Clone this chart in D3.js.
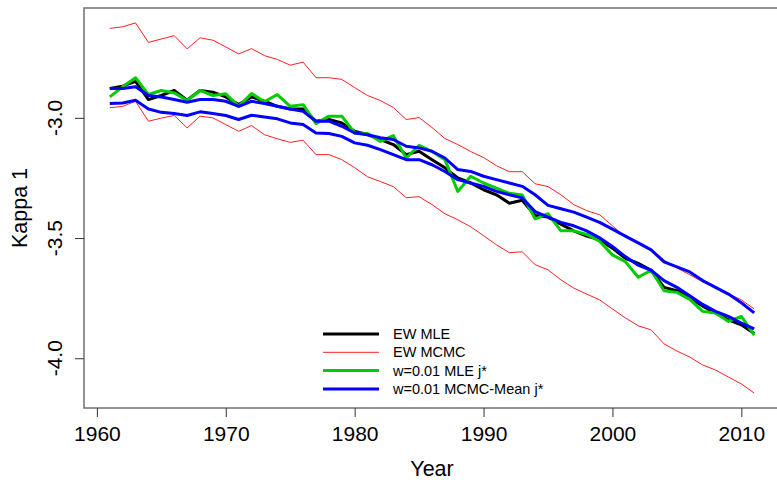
<!DOCTYPE html>
<html>
<head>
<meta charset="utf-8">
<script src="https://cdn.jsdelivr.net/npm/d3@7"></script>
<style>
body { margin: 0; background: #fff; }
text { font-family: "Liberation Sans", Arial, sans-serif; }
</style>
</head>
<body>
<div id="chart"></div>
<script>
const years = d3.range(1961, 2012);

const ewMle = [-2.878, -2.868, -2.848, -2.924, -2.907, -2.886, -2.927, -2.886, -2.893, -2.913,
    -2.945, -2.913, -2.931, -2.952, -2.963, -2.963, -3.014, -3.007, -3.021, -3.056,
    -3.070, -3.090, -3.111, -3.153, -3.139, -3.174, -3.208, -3.250, -3.271, -3.299,
    -3.320, -3.355, -3.343, -3.406, -3.413, -3.442, -3.470, -3.492, -3.506, -3.542,
    -3.584, -3.605, -3.634, -3.705, -3.719, -3.748, -3.783, -3.812, -3.840, -3.861, -3.897];

const ewMcmcUpper = [-2.628, -2.621, -2.605, -2.686, -2.672, -2.658, -2.713, -2.667, -2.677, -2.705,
    -2.734, -2.712, -2.741, -2.757, -2.781, -2.768, -2.833, -2.833, -2.840, -2.874,
    -2.907, -2.928, -2.957, -3.007, -2.999, -3.040, -3.086, -3.111, -3.140, -3.165,
    -3.199, -3.224, -3.224, -3.274, -3.286, -3.320, -3.361, -3.386, -3.403, -3.449,
    -3.495, -3.524, -3.545, -3.591, -3.624, -3.653, -3.682, -3.703, -3.732, -3.757, -3.795];

const ewMcmcLower = [-2.958, -2.952, -2.931, -3.014, -3.001, -2.990, -3.042, -2.993, -3.000, -3.028,
    -3.056, -3.032, -3.070, -3.087, -3.102, -3.093, -3.153, -3.153, -3.174, -3.207,
    -3.245, -3.265, -3.286, -3.332, -3.328, -3.361, -3.399, -3.424, -3.453, -3.490,
    -3.528, -3.561, -3.557, -3.611, -3.632, -3.674, -3.708, -3.733, -3.757, -3.795,
    -3.832, -3.865, -3.882, -3.940, -3.970, -3.995, -4.028, -4.049, -4.078, -4.107, -4.145];

const w01Mle = [-2.913, -2.871, -2.833, -2.903, -2.886, -2.896, -2.928, -2.886, -2.907, -2.900,
    -2.952, -2.899, -2.933, -2.903, -2.952, -2.945, -3.024, -2.993, -2.993, -3.063,
    -3.065, -3.098, -3.074, -3.167, -3.114, -3.140, -3.174, -3.306, -3.243, -3.271,
    -3.292, -3.314, -3.321, -3.420, -3.399, -3.470, -3.470, -3.485, -3.513, -3.570,
    -3.598, -3.663, -3.634, -3.719, -3.726, -3.755, -3.805, -3.812, -3.847, -3.826, -3.904];

const w01McmcUpper = [-2.878, -2.878, -2.871, -2.907, -2.913, -2.924, -2.935, -2.924, -2.924, -2.931,
    -2.952, -2.931, -2.940, -2.952, -2.963, -2.973, -3.014, -3.014, -3.035, -3.063,
    -3.070, -3.083, -3.090, -3.118, -3.125, -3.139, -3.167, -3.215, -3.223, -3.243,
    -3.257, -3.271, -3.285, -3.320, -3.364, -3.378, -3.392, -3.413, -3.435, -3.463,
    -3.492, -3.520, -3.549, -3.599, -3.620, -3.641, -3.677, -3.705, -3.733, -3.769, -3.811];

const w01McmcLower = [-2.940, -2.938, -2.927, -2.963, -2.977, -2.982, -2.990, -2.975, -2.982, -2.990,
    -3.007, -2.989, -2.996, -3.004, -3.021, -3.028, -3.063, -3.065, -3.077, -3.104,
    -3.114, -3.132, -3.153, -3.174, -3.174, -3.195, -3.223, -3.257, -3.271, -3.285,
    -3.306, -3.320, -3.333, -3.390, -3.413, -3.435, -3.449, -3.470, -3.499, -3.535,
    -3.577, -3.613, -3.634, -3.677, -3.705, -3.740, -3.776, -3.805, -3.826, -3.854, -3.878];

const xTicks = [1960, 1970, 1980, 1990, 2000, 2010];
const yTicks = [-4.0, -3.5, -3.0];
const legendLabels = ["EW MLE", "EW MCMC", "w=0.01 MLE j*", "w=0.01 MCMC-Mean j*"];
const legendColors = ["#000000", "#ff2020", "#00cd00", "#0000ff"];
const legendWidths = [3, 1, 3, 3];

const totalWidth = 777, totalHeight = 480;
const plot = { left: 84, top: 8, right: 780, bottom: 408 };

const svg = d3.select("#chart").append("svg")
    .attr("width", totalWidth)
    .attr("height", totalHeight);

// R-style scales: range of data padded by 4%
const x = d3.scaleLinear().domain([1959, 2013]).range([plot.left, plot.right]);
const y = d3.scaleLinear().domain([-4.207, -2.543]).range([plot.bottom, plot.top]);

const line = d3.line()
    .x((d, i) => x(years[i]))
    .y(d => y(d));

// series in drawing order (red band lines, then thick lines on top)
const series = [
    { values: ewMle, color: legendColors[0], width: 3 },
    { values: ewMcmcUpper, color: legendColors[1], width: 1 },
    { values: ewMcmcLower, color: legendColors[1], width: 1 },
    { values: w01Mle, color: legendColors[2], width: 3 },
    { values: w01McmcUpper, color: legendColors[3], width: 3 },
    { values: w01McmcLower, color: legendColors[3], width: 3 }
];

svg.append("g").selectAll("path")
    .data(series)
    .enter().append("path")
    .attr("d", d => line(d.values))
    .attr("fill", "none")
    .attr("stroke", d => d.color)
    .attr("stroke-width", d => d.width)
    .attr("stroke-linejoin", "round");

// Box around the plot region
svg.append("rect")
    .attr("x", plot.left)
    .attr("y", plot.top)
    .attr("width", plot.right - plot.left)
    .attr("height", plot.bottom - plot.top)
    .attr("fill", "none")
    .attr("stroke", "#707070")
    .attr("stroke-width", 1.5);

// X axis
const xAxisG = svg.append("g")
    .attr("transform", `translate(0,${plot.bottom})`)
    .call(d3.axisBottom(x).tickValues(xTicks).tickSize(9).tickPadding(9).tickFormat(d3.format("d")));
xAxisG.select(".domain").remove();
xAxisG.selectAll("line").attr("stroke", "#333");
xAxisG.selectAll("text")
    .attr("font-size", "21px")
    .attr("fill", "#000")
    .style("font-family", "'Liberation Sans', Arial, sans-serif");

// Y axis, labels parallel to the axis like R
const yAxisG = svg.append("g")
    .attr("transform", `translate(${plot.left},0)`)
    .call(d3.axisLeft(y).tickValues(yTicks).tickSize(9).tickFormat(""));
yAxisG.select(".domain").remove();
yAxisG.selectAll("line").attr("stroke", "#333");

svg.append("g").selectAll("text")
    .data(yTicks)
    .enter().append("text")
    .attr("transform", d => `translate(62,${y(d)}) rotate(-90)`)
    .style("text-anchor", "middle")
    .attr("font-size", "21px")
    .text(d => d.toFixed(1));

// Axis titles
svg.append("text")
    .attr("x", (plot.left + plot.right) / 2)
    .attr("y", 476)
    .style("text-anchor", "middle")
    .attr("font-size", "21.5px")
    .text("Year");

svg.append("text")
    .attr("transform", `translate(27,${(plot.top + plot.bottom) / 2}) rotate(-90)`)
    .style("text-anchor", "middle")
    .attr("font-size", "21.5px")
    .text("Kappa 1");

// Legend (no box)
const legend = svg.append("g").attr("transform", "translate(323,334)");
const rowH = 18.3;
legend.selectAll("line")
    .data(legendLabels)
    .enter().append("line")
    .attr("x1", 0).attr("x2", 56)
    .attr("y1", (d, i) => i * rowH).attr("y2", (d, i) => i * rowH)
    .attr("stroke", (d, i) => legendColors[i])
    .attr("stroke-width", (d, i) => legendWidths[i]);
legend.selectAll("text")
    .data(legendLabels)
    .enter().append("text")
    .attr("x", 70)
    .attr("y", (d, i) => i * rowH + 5)
    .attr("font-size", "14.5px")
    .text(d => d);
</script>
</body>
</html>
